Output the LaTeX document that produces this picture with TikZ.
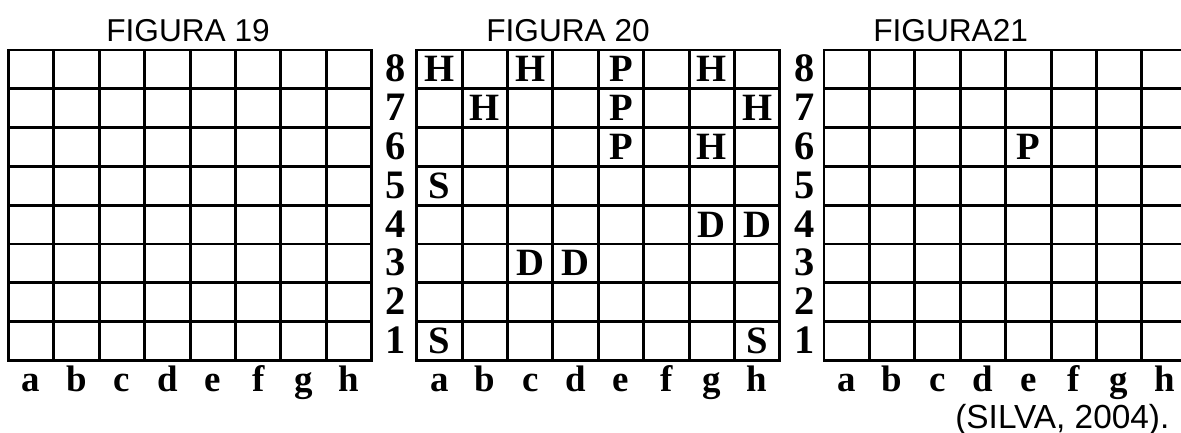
\documentclass[tikz,border=0pt]{standalone}
\usepackage{fontspec}
\setmainfont{Liberation Serif}
\newfontfamily\arialfont{Liberation Sans}

\begin{document}
\begin{tikzpicture}[
  x=0.02cm, y=-0.02cm,
  gridline/.style={line width=1.7pt, line cap=rect},
  piece/.style={anchor=base, inner sep=0pt, font=\fontsize{22}{22}\selectfont\bfseries},
  rank/.style={anchor=base, inner sep=0pt, font=\fontsize{23}{23}\selectfont\bfseries},
  file/.style={anchor=base, inner sep=0pt, font=\fontsize{21}{21}\selectfont\bfseries},
  title/.style={anchor=base west, inner sep=0pt, font=\arialfont\fontsize{18}{18}\selectfont}
]
\useasboundingbox (0,0) rectangle (1181,433);
\clip (0,0) rectangle (1181,433);

% the three boards
\foreach \bx/\bn in {8.5/one, 416.7/two, 824/three} {
  \foreach \i in {0,...,8}
    \draw[gridline] ({\bx+45.4*\i},50) -- ({\bx+45.4*\i},360.4);
  \foreach \j in {0,...,8}
    \draw[gridline] (\bx,{50+38.8*\j}) -- ({\bx+363.2},{50+38.8*\j});
  \foreach \f [count=\k] in {a,b,c,d,e,f,g,h}
    \node[file] (\bn-\f) at ({\bx+45.4*(\k-0.5)},391.7) {\f};
}

% rank numbers
\foreach \r in {1,...,8} {
  \node[rank] (left-\r) at (396,{50+38.8*(8.5-\r)+12.5}) {\r};
  \node[rank] (right-\r) at (805,{50+38.8*(8.5-\r)+12.5}) {\r};
}

% pieces
\foreach \c/\r/\p in {1/8/H,3/8/H,5/8/P,7/8/H,2/7/H,5/7/P,8/7/H,5/6/P,7/6/H,
                      1/5/S,7/4/D,8/4/D,3/3/D,4/3/D,1/1/S,8/1/S}
  \node[piece] (two-\c\r) at ({416.7+45.4*(\c-0.5)},{50+38.8*(8.5-\r)+12.5}) {\p};
\node[piece] (three-56) at ({824+45.4*4.5},{50+38.8*2.5+12.5}) {P};

% titles
\node[title] (fig19) at (106,41.7) {FIGURA 19};
\node[title] (fig20) at (486,41.7) {FIGURA 20};
\node[title] (fig21) at (873,41.7) {FIGURA21};
\node[title, font=\arialfont\fontsize{19}{19}\selectfont] (source) at (955,428) {(SILVA, 2004).};
\end{tikzpicture}
\end{document}
